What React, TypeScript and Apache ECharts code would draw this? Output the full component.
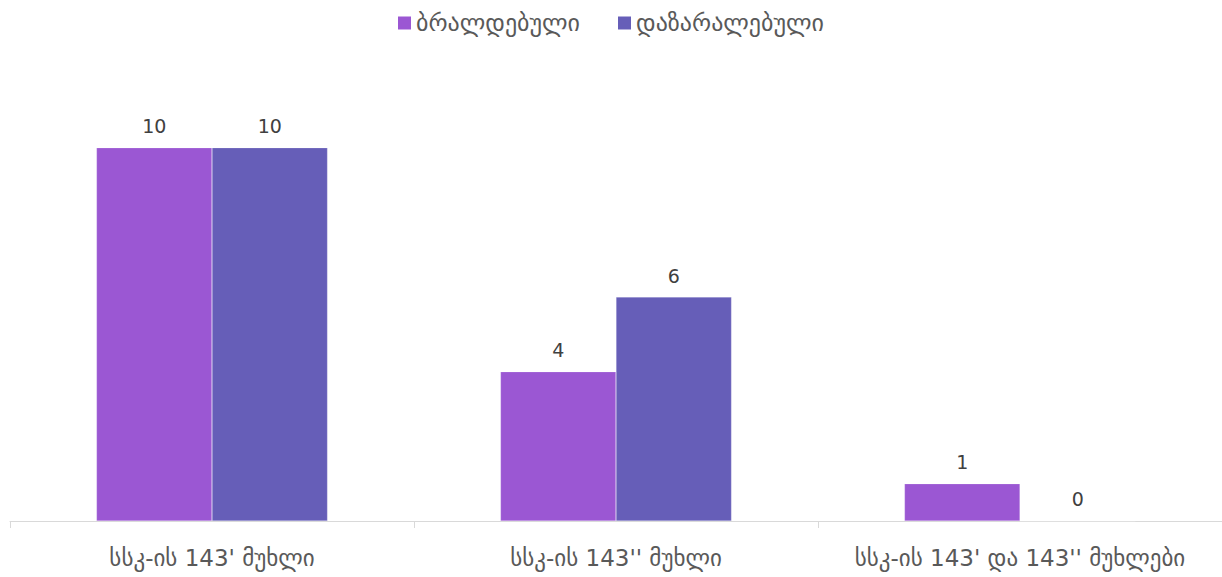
import React, { useEffect, useRef } from "react";
import * as echarts from "echarts";

const categories = ["სსკ-ის 143' მუხლი", "სსკ-ის 143'' მუხლი", "სსკ-ის 143' და 143'' მუხლები"];
const seriesNames = ["ბრალდებული", "დაზარალებული"];
const accused = [10, 4, 1];
const victims = [10, 6, 0];
const colors = ["#9B57D3", "#665EB8"];

export default function App() {
  const ref = useRef<HTMLDivElement>(null);
  useEffect(() => {
    const chart = echarts.init(ref.current!, undefined, { renderer: "svg" });
    chart.setOption({
      animation: false,
      color: colors,
      textStyle: { fontFamily: "'DejaVu Sans', sans-serif" },
      legend: {
        top: 6,
        left: "center",
        itemWidth: 13,
        itemHeight: 13,
        itemGap: 38,
        itemStyle: { borderWidth: 0 },
        icon: "rect",
        textStyle: { fontSize: 24, color: "#595959" },
        data: seriesNames,
      },
      grid: { left: 10, right: 0, top: 73, bottom: 56, containLabel: false },
      xAxis: {
        type: "category",
        data: categories,
        axisLine: { lineStyle: { color: "#D9D9D9", width: 1 } },
        axisTick: { show: true, length: 7, lineStyle: { color: "#D9D9D9" } },
        axisLabel: { fontSize: 23, color: "#595959", margin: 25, interval: 0, hideOverlap: false },
      },
      yAxis: { type: "value", min: 0, max: 12, show: false, splitLine: { show: false } },
      series: [
        {
          name: seriesNames[0],
          type: "bar",
          data: accused,
          barWidth: "28.6%",
          barGap: "0%",
          itemStyle: { color: colors[0], borderColor: "rgba(255,255,255,0.4)", borderWidth: 0.5 },
          label: { show: true, position: "top", distance: 12, fontSize: 19, color: "#404040" },
        },
        {
          name: seriesNames[1],
          type: "bar",
          data: victims,
          barWidth: "28.6%",
          barGap: "0%",
          itemStyle: { color: colors[1], borderColor: "rgba(255,255,255,0.4)", borderWidth: 0.5 },
          label: { show: true, position: "top", distance: 12, fontSize: 19, color: "#404040" },
        },
      ],
    });
    return () => chart.dispose();
  }, []);
  return <div ref={ref} style={{ position: "absolute", left: 0, top: 0, width: 1222, height: 577 }} />;
}
